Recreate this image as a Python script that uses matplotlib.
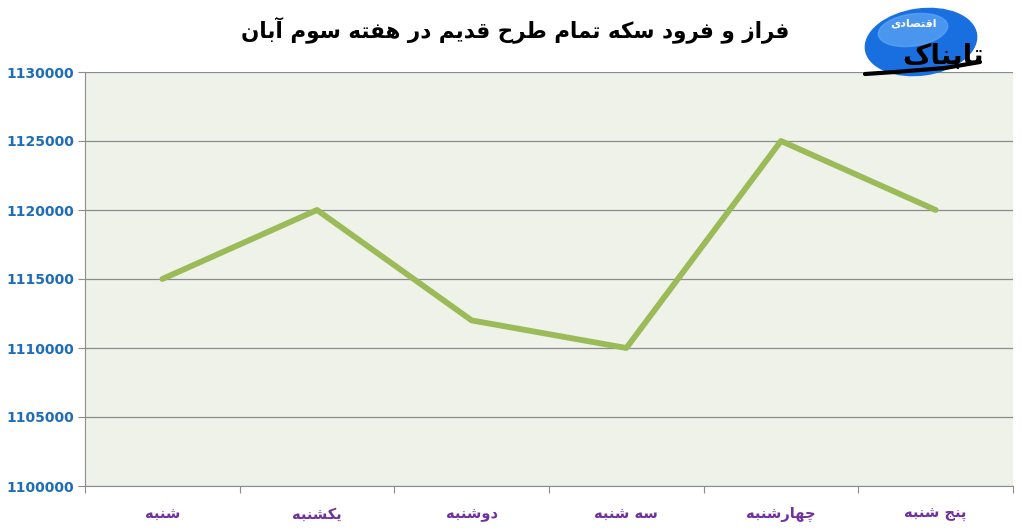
import matplotlib
matplotlib.use("Agg")
import matplotlib.pyplot as plt
from matplotlib.patches import Ellipse

# values
days = ["شنبه", "یکشنبه", "دوشنبه", "سه شنبه", "چهارشنبه", "پنج شنبه"]
prices = [1115000, 1120000, 1112000, 1110000, 1125000, 1120000]
yticks = [1100000, 1105000, 1110000, 1115000, 1120000, 1125000, 1130000]
title = "فراز و فرود سکه تمام طرح قدیم در هفته سوم آبان"

# simple arabic/persian shaping (matplotlib has no shaping engine)
# char: (isolated, final, initial, medial) ; None initial means right-joining only
forms = {
    "ا": (0xFE8D, 0xFE8E, None, None),
    "آ": (0xFE81, 0xFE82, None, None),
    "ب": (0xFE8F, 0xFE90, 0xFE91, 0xFE92),
    "ت": (0xFE95, 0xFE96, 0xFE97, 0xFE98),
    "ج": (0xFE9D, 0xFE9E, 0xFE9F, 0xFEA0),
    "ح": (0xFEA1, 0xFEA2, 0xFEA3, 0xFEA4),
    "د": (0xFEA9, 0xFEAA, None, None),
    "ر": (0xFEAD, 0xFEAE, None, None),
    "ز": (0xFEAF, 0xFEB0, None, None),
    "س": (0xFEB1, 0xFEB2, 0xFEB3, 0xFEB4),
    "ش": (0xFEB5, 0xFEB6, 0xFEB7, 0xFEB8),
    "ص": (0xFEB9, 0xFEBA, 0xFEBB, 0xFEBC),
    "ط": (0xFEC1, 0xFEC2, 0xFEC3, 0xFEC4),
    "ف": (0xFED1, 0xFED2, 0xFED3, 0xFED4),
    "ق": (0xFED5, 0xFED6, 0xFED7, 0xFED8),
    "م": (0xFEE1, 0xFEE2, 0xFEE3, 0xFEE4),
    "ن": (0xFEE5, 0xFEE6, 0xFEE7, 0xFEE8),
    "ه": (0xFEE9, 0xFEEA, 0xFEEB, 0xFEEC),
    "و": (0xFEED, 0xFEEE, None, None),
    "ی": (0xFBFC, 0xFBFD, 0xFBFE, 0xFBFF),
    "ک": (0xFB8E, 0xFB8F, 0xFB90, 0xFB91),
    "چ": (0xFB7A, 0xFB7B, 0xFB7C, 0xFB7D),
    "پ": (0xFB56, 0xFB57, 0xFB58, 0xFB59),
}


def fa(s):
    out = []
    for i, c in enumerate(s):
        if c not in forms:
            out.append(c)
            continue
        prev = s[i - 1] if i > 0 else " "
        nxt = s[i + 1] if i < len(s) - 1 else " "
        jp = prev in forms and forms[prev][2] is not None
        jn = forms[c][2] is not None and nxt in forms
        f = forms[c]
        if jp and jn:
            out.append(chr(f[3]))
        elif jp:
            out.append(chr(f[1]))
        elif jn:
            out.append(chr(f[2]))
        else:
            out.append(chr(f[0]))
    return "".join(out[::-1])


plt.rcParams['font.family'] = ['DejaVu Sans']

fig = plt.figure(figsize=(10.22, 5.30), dpi=100)
ax = fig.add_axes([85 / 1022, 1 - 486 / 530, 928 / 1022, 414 / 530])
ax.set_facecolor("#eff2e9")

x = list(range(len(days)))
ax.plot(x, prices, color="#9bbb59", lw=4.2, solid_capstyle="round", zorder=3)

ax.set_xlim(-0.5, len(days) - 0.5)
ax.set_ylim(yticks[0], yticks[-1])
ax.set_yticks(yticks)
ax.set_yticklabels([str(v) for v in yticks], color="#1f6db8",
                   fontsize=10, fontweight="bold")
ax.yaxis.grid(True, color="#8c8c8c", lw=0.9)
ax.set_axisbelow(True)

ax.set_xticks([i - 0.5 for i in range(len(days) + 1)])
ax.set_xticklabels([])
ax.set_xticks(x, minor=True)
ax.set_xticklabels([fa(d) for d in days], minor=True, color="#7030a0",
                   fontsize=10.5, fontweight="bold")
ax.tick_params(axis="x", which="minor", length=0, pad=15)
ax.tick_params(axis="x", which="major", length=5, color="#8c8c8c", direction="out")
ax.tick_params(axis="y", length=5, color="#8c8c8c", pad=3)

for side in ["top", "right"]:
    ax.spines[side].set_visible(False)
ax.spines["left"].set_color("#8c8c8c")
ax.spines["bottom"].set_color("#8c8c8c")

fig.text(515 / 1022, 1 - 30 / 530, fa(title), ha="center", va="center",
         fontsize=15.5, fontweight="bold", color="black")

# logo
lax = fig.add_axes([855 / 1022, 1 - 88 / 530, 167 / 1022, 88 / 530])
lax.set_xlim(0, 167)
lax.set_ylim(88, 0)
lax.axis("off")
lax.add_patch(Ellipse((66, 42), 112, 66, angle=-8, color="#1a6fe0"))
lax.add_patch(Ellipse((58, 30), 70, 32, angle=-8, color="#5fa8f5", alpha=0.7))
lax.plot([10, 40, 90, 125], [74, 72, 68, 62], color="black", lw=3, solid_capstyle="round")
lax.text(88, 56, fa("تابناک"), ha="center", va="center", fontsize=20,
         fontweight="bold", color="black")
lax.text(58, 24, fa("اقتصادی"), ha="center", va="center", fontsize=8,
         fontweight="bold", color="white")

fig.savefig("out.png", dpi=100, facecolor="white")
